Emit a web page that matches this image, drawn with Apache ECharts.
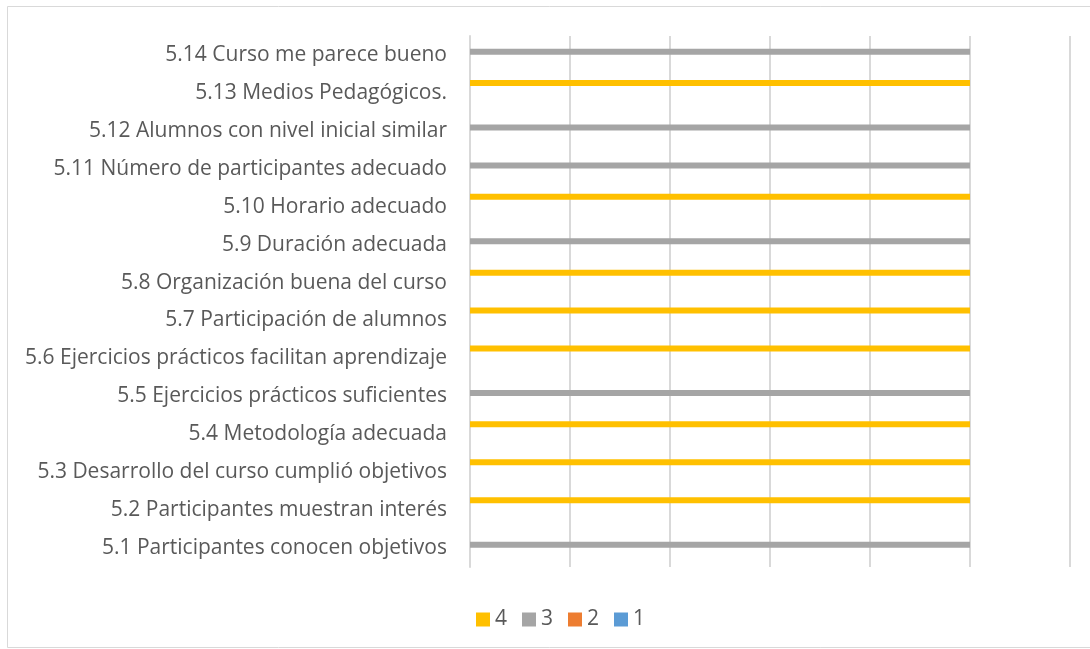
<!DOCTYPE html>
<html>
<head>
<meta charset="utf-8">
<script src="https://cdn.jsdelivr.net/npm/echarts@6/dist/echarts.min.js"></script>
<style>
  html, body { margin: 0; padding: 0; background: #fff; }
  #chart { width: 1090px; height: 649px; }
</style>
</head>
<body>
<div id="chart"></div>
<script>
// Survey items, listed bottom to top as they appear on the category axis
const categories = [
  '5.1 Participantes conocen objetivos',
  '5.2 Participantes muestran interés',
  '5.3 Desarrollo del curso cumplió objetivos',
  '5.4 Metodología adecuada',
  '5.5 Ejercicios prácticos suficientes',
  '5.6 Ejercicios prácticos facilitan aprendizaje',
  '5.7 Participación de alumnos',
  '5.8 Organización buena del curso',
  '5.9 Duración adecuada',
  '5.10 Horario adecuado',
  '5.11 Número de participantes adecuado',
  '5.12 Alumnos con nivel inicial similar',
  '5.13 Medios Pedagógicos.',
  '5.14 Curso me parece bueno'
];

// Number of answers per rating level, one array per rating
const rating4 = [0, 5, 5, 5, 0, 5, 5, 5, 0, 5, 0, 0, 5, 0];
const rating3 = [5, 0, 0, 0, 5, 0, 0, 0, 5, 0, 5, 5, 0, 5];
const rating2 = [0, 0, 0, 0, 0, 0, 0, 0, 0, 0, 0, 0, 0, 0];
const rating1 = [0, 0, 0, 0, 0, 0, 0, 0, 0, 0, 0, 0, 0, 0];

const seriesNames = ['4', '3', '2', '1'];
const seriesColors = ['#FFC000', '#A5A5A5', '#ED7D31', '#5B9BD5'];
const seriesData = [rating4, rating3, rating2, rating1];

const FONT = '"Open Sans", "Noto Sans", sans-serif';
const TEXT_COLOR = '#595959';

const chart = echarts.init(document.getElementById('chart'), null, { renderer: 'canvas' });

chart.setOption({
  animation: false,
  backgroundColor: '#ffffff',
  graphic: [{
    type: 'rect',
    shape: { x: 7.5, y: 6.5, width: 1100, height: 641 },
    style: { fill: 'none', stroke: '#D9D9D9', lineWidth: 1 },
    silent: true,
    z: -1
  }],
  grid: { left: 470, right: 20, top: 36, bottom: 82, containLabel: false },
  legend: {
    left: 471,
    top: 604,
    icon: 'rect',
    itemWidth: 14,
    itemHeight: 14,
    itemGap: 15,
    textStyle: { fontFamily: FONT, fontSize: 21, color: TEXT_COLOR },
    data: seriesNames
  },
  xAxis: {
    type: 'value',
    min: 0,
    max: 6,
    interval: 1,
    axisLabel: { show: false },
    axisTick: { show: false },
    axisLine: { show: false },
    splitLine: { show: true, lineStyle: { color: '#D9D9D9', width: 2 } }
  },
  yAxis: {
    type: 'category',
    data: categories,
    axisTick: { show: false },
    axisLine: { show: true, lineStyle: { color: '#D9D9D9', width: 2 } },
    axisLabel: { fontFamily: FONT, fontSize: 21, color: TEXT_COLOR, margin: 23 }
  },
  series: seriesNames.map((name, i) => ({
    name: name,
    type: 'bar',
    data: seriesData[i],
    barWidth: 6,
    barGap: '10%',
    itemStyle: { color: seriesColors[i] }
  }))
});
</script>
</body>
</html>
